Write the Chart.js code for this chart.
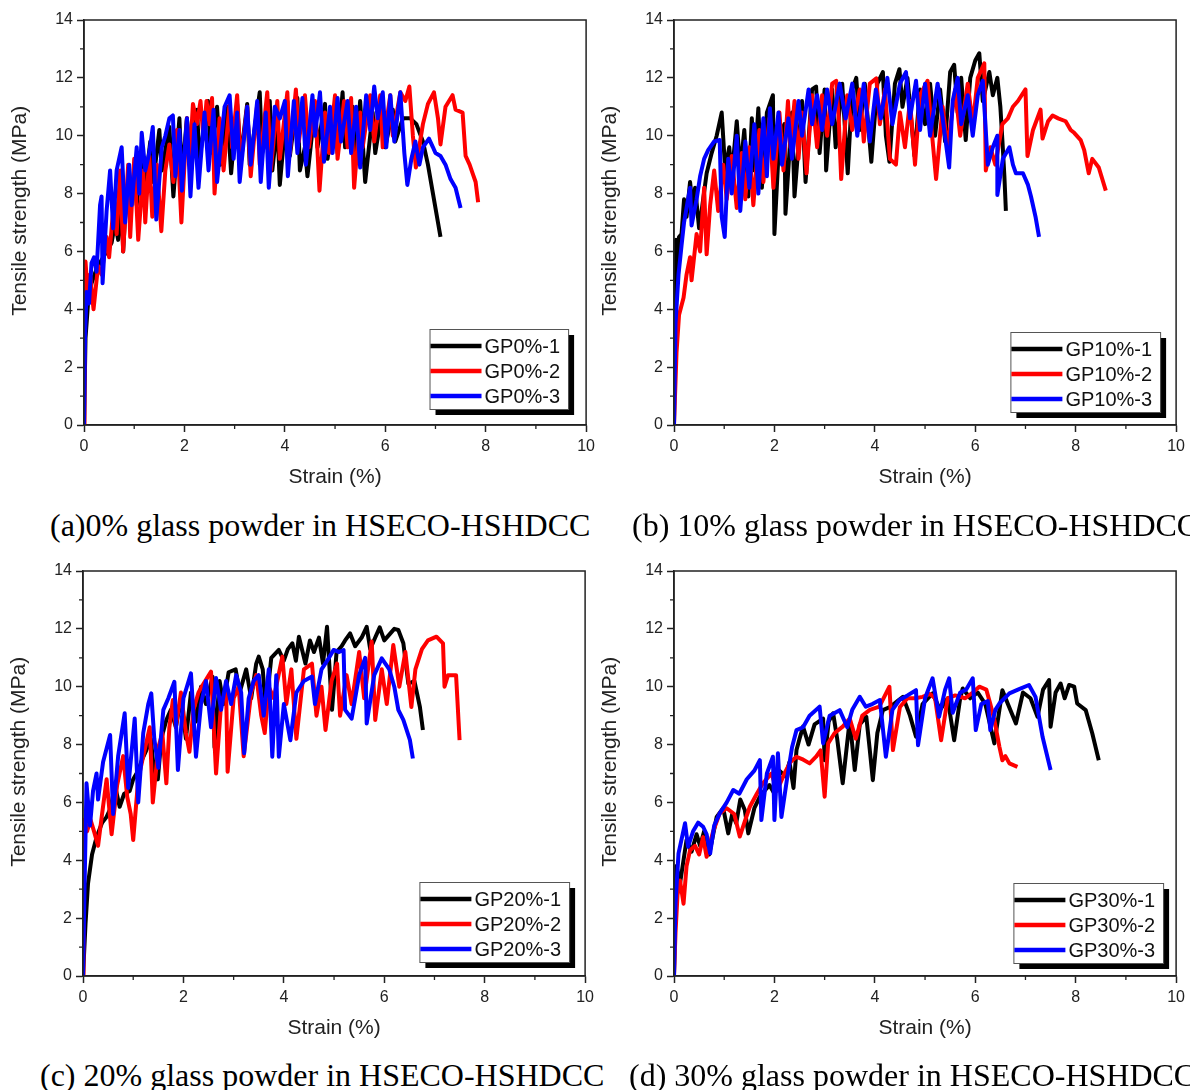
<!DOCTYPE html>
<html>
<head>
<meta charset="utf-8">
<script src="https://cdn.jsdelivr.net/npm/chart.js@4.4.1/dist/chart.umd.min.js"></script>
<style>
html, body { margin: 0; padding: 0; background: #fff; width: 1190px; height: 1090px; overflow: hidden; position: relative; }
canvas { position: absolute; }
.caption { position: absolute; font-family: "Liberation Serif", "Times New Roman", serif; font-size: 32px; line-height: 32px; white-space: nowrap; color: #000; }
</style>
</head>
<body>
<canvas id="chart-a" width="600" height="500" style="left:0px;top:0px"></canvas>
<canvas id="chart-b" width="600" height="500" style="left:590px;top:0px"></canvas>
<canvas id="chart-c" width="600" height="500" style="left:-1px;top:551px"></canvas>
<canvas id="chart-d" width="600" height="500" style="left:590px;top:551px"></canvas>
<div class="caption" style="left:50px;top:509px">(a)0% glass powder in HSECO-HSHDCC</div>
<div class="caption" style="left:632px;top:509px">(b) 10% glass powder in HSECO-HSHDCC</div>
<div class="caption" style="left:40px;top:1059px">(c) 20% glass powder in HSECO-HSHDCC</div>
<div class="caption" style="left:629px;top:1059px">(d) 30% glass powder in HSECO-HSHDCC</div>
<script>
// ============================================
// 유리분말 함량별 인장 응력-변형률 곡선 (4 panels)
// ============================================

// 축 범위 / 눈금
const strainRange = [0, 10];
const stressRange = [0, 14];
const majorStep = 2;
const minorStrain = [1, 3, 5, 7, 9];
const minorStress = [1, 3, 5, 7, 9, 11, 13];

const seriesColors = ['#000000', '#ff0000', '#0000ff'];

// (a) GP0% — [strain %, stress MPa]
const labelsGP0 = ['GP0%-1', 'GP0%-2', 'GP0%-3'];
const gp0_1 = [[0,0],[0.03,3.0],[0.08,4.2],[0.15,4.9],[0.25,5.4],[0.35,5.7],[0.45,6.0],[0.55,6.3],[0.62,7.0],[0.68,6.4],[0.75,7.6],[0.78,6.0],[0.85,8.2],[0.92,7.2],[1.0,8.8],[1.05,7.6],[1.15,9.4],[1.2,8.0],[1.32,9.8],[1.38,8.4],[1.5,10.2],[1.55,8.8],[1.7,10.3],[1.78,7.9],[1.9,10.6],[1.95,8.6],[2.05,10.6],[2.12,9.0],[2.25,10.9],[2.3,9.2],[2.47,11.2],[2.52,9.4],[2.65,11.0],[2.72,9.0],[2.85,11.0],[2.93,8.7],[3.05,11.1],[3.12,9.2],[3.25,11.1],[3.3,9.0],[3.5,11.5],[3.55,9.4],[3.7,11.2],[3.75,8.8],[3.85,10.4],[3.9,8.3],[4.05,11.2],[4.1,9.3],[4.25,11.3],[4.3,8.8],[4.4,9.6],[4.45,8.6],[4.6,11.0],[4.65,9.6],[4.8,11.1],[4.85,9.2],[5.0,11.1],[5.05,9.4],[5.15,11.5],[5.2,9.6],[5.35,11.0],[5.4,9.0],[5.5,11.2],[5.6,8.4],[5.75,10.8],[5.8,9.4],[5.95,11.0],[6.0,9.6],[6.15,10.9],[6.2,9.8],[6.35,10.6],[6.5,10.6],[6.62,10.4],[6.75,9.8],[6.85,9.0],[6.95,8.0],[7.05,7.0],[7.1,6.5]];
const gp0_2 = [[0,0],[0.01,4.5],[0.03,5.65],[0.07,4.6],[0.12,5.2],[0.19,4.0],[0.28,5.5],[0.35,5.2],[0.45,6.5],[0.5,5.8],[0.6,7.8],[0.65,6.6],[0.72,8.8],[0.78,6.0],[0.88,9.0],[0.92,6.5],[1.0,9.2],[1.08,6.4],[1.18,8.8],[1.22,7.0],[1.3,9.3],[1.36,7.2],[1.45,9.0],[1.54,6.7],[1.62,8.8],[1.7,9.7],[1.78,8.4],[1.85,10.2],[1.94,7.0],[2.05,10.6],[2.1,9.0],[2.17,11.1],[2.25,10.4],[2.32,11.2],[2.38,9.9],[2.44,11.2],[2.5,10.4],[2.55,11.3],[2.6,8.0],[2.7,10.6],[2.78,8.8],[2.9,11.1],[2.95,9.6],[3.05,11.4],[3.12,9.0],[3.25,11.0],[3.32,8.6],[3.45,11.1],[3.5,9.0],[3.65,11.5],[3.72,8.8],[3.85,11.2],[3.9,9.2],[4.05,11.5],[4.1,9.4],[4.22,11.6],[4.28,9.8],[4.4,11.4],[4.48,9.6],[4.6,11.2],[4.69,8.1],[4.8,10.8],[4.88,9.4],[5.0,11.4],[5.05,9.2],[5.18,11.2],[5.25,9.6],[5.32,11.3],[5.38,8.2],[5.5,10.8],[5.55,9.6],[5.7,11.4],[5.78,9.8],[5.9,11.4],[5.95,9.6],[6.1,11.4],[6.15,10.0],[6.3,11.5],[6.4,11.2],[6.48,11.7],[6.55,10.0],[6.61,8.9],[6.75,10.4],[6.85,11.1],[6.97,11.5],[7.05,10.6],[7.1,9.7],[7.2,11.0],[7.34,11.4],[7.4,10.9],[7.54,10.8],[7.6,9.3],[7.68,9.0],[7.74,8.7],[7.8,8.4],[7.85,7.7]];
const gp0_3 = [[0,0],[0.02,3.0],[0.05,4.6],[0.1,4.2],[0.15,5.6],[0.2,5.8],[0.25,5.3],[0.32,7.6],[0.35,7.9],[0.37,4.9],[0.45,7.4],[0.52,8.8],[0.58,6.8],[0.65,8.8],[0.75,9.6],[0.82,7.0],[0.9,9.0],[0.95,7.6],[1.05,9.6],[1.1,8.0],[1.15,10.1],[1.22,8.8],[1.3,9.4],[1.37,10.3],[1.44,7.1],[1.55,9.6],[1.62,10.0],[1.7,10.6],[1.77,10.7],[1.82,8.6],[1.9,10.2],[1.95,8.1],[2.05,10.6],[2.12,7.9],[2.2,10.4],[2.28,8.2],[2.4,10.8],[2.48,8.8],[2.58,10.9],[2.65,8.4],[2.8,11.0],[2.9,11.4],[2.98,9.2],[3.05,10.8],[3.1,8.4],[3.25,11.0],[3.32,9.0],[3.45,11.2],[3.52,8.4],[3.62,10.8],[3.68,8.2],[3.8,11.0],[3.9,10.6],[4.0,11.2],[4.06,8.6],[4.18,11.2],[4.25,9.4],[4.35,11.3],[4.42,9.0],[4.55,11.4],[4.6,10.0],[4.7,11.5],[4.78,9.1],[4.9,11.0],[4.95,9.4],[5.05,11.3],[5.12,9.8],[5.25,11.2],[5.32,9.4],[5.42,11.0],[5.5,8.9],[5.62,11.4],[5.7,10.2],[5.78,11.7],[5.85,10.6],[5.95,11.5],[6.02,9.6],[6.1,11.4],[6.18,9.8],[6.3,11.5],[6.38,9.4],[6.44,8.3],[6.52,9.2],[6.6,9.8],[6.68,9.0],[6.75,9.6],[6.87,9.9],[6.95,9.6],[7.0,9.4],[7.1,9.3],[7.2,9.0],[7.3,8.5],[7.4,8.2],[7.5,7.5]];

// (b) GP10%
const labelsGP10 = ['GP10%-1', 'GP10%-2', 'GP10%-3'];
const gp10_1 = [[0,0],[0.02,5.0],[0.04,6.4],[0.07,4.9],[0.1,6.5],[0.15,6.6],[0.2,7.8],[0.25,7.2],[0.32,8.4],[0.38,7.4],[0.42,8.2],[0.5,6.8],[0.55,7.4],[0.65,8.7],[0.75,9.4],[0.85,10.0],[0.95,10.8],[1.02,8.8],[1.1,9.6],[1.15,8.6],[1.25,10.5],[1.32,8.8],[1.4,10.2],[1.48,7.9],[1.55,10.6],[1.6,8.8],[1.68,10.95],[1.75,8.2],[1.85,10.8],[1.97,11.4],[2.0,6.6],[2.1,10.0],[2.2,10.4],[2.22,7.3],[2.35,10.8],[2.4,7.9],[2.55,11.2],[2.62,8.4],[2.75,11.6],[2.83,11.7],[2.9,9.4],[3.0,11.6],[3.03,8.8],[3.15,11.6],[3.22,9.6],[3.35,11.8],[3.46,8.7],[3.55,11.6],[3.63,12.0],[3.7,10.2],[3.8,11.8],[3.93,9.1],[4.05,11.8],[4.16,12.2],[4.22,10.0],[4.29,9.1],[4.4,11.8],[4.49,12.3],[4.55,11.0],[4.65,12.0],[4.79,9.3],[4.9,11.6],[5.0,10.4],[5.1,11.8],[5.2,10.0],[5.3,11.6],[5.4,9.8],[5.5,12.2],[5.58,12.45],[5.65,10.8],[5.72,12.0],[5.81,9.85],[5.9,12.0],[6.0,12.6],[6.08,12.85],[6.15,11.2],[6.28,12.2],[6.35,11.4],[6.44,12.0],[6.5,11.0],[6.54,9.85],[6.58,8.6],[6.61,7.4]];
const gp10_2 = [[0,0],[0.05,2.5],[0.1,3.8],[0.19,4.4],[0.25,5.2],[0.32,5.8],[0.35,5.0],[0.45,6.6],[0.52,6.0],[0.6,8.2],[0.65,5.9],[0.72,7.6],[0.8,8.8],[0.88,7.4],[0.98,9.0],[1.05,7.8],[1.15,9.3],[1.25,7.5],[1.35,9.4],[1.42,7.8],[1.5,9.6],[1.58,7.6],[1.7,10.2],[1.78,8.4],[1.9,10.6],[1.98,8.2],[2.1,10.8],[2.18,8.8],[2.27,11.2],[2.32,9.6],[2.4,11.2],[2.48,9.2],[2.55,10.8],[2.64,8.7],[2.75,11.4],[2.85,9.6],[2.95,11.4],[3.05,10.0],[3.15,11.8],[3.23,11.9],[3.28,10.6],[3.33,8.5],[3.45,11.4],[3.55,10.2],[3.7,11.6],[3.78,9.8],[3.9,11.8],[4.03,11.98],[4.1,10.4],[4.2,11.6],[4.3,9.2],[4.42,9.0],[4.5,10.8],[4.6,9.6],[4.7,11.2],[4.8,9.0],[4.9,11.4],[5.05,11.9],[5.12,10.4],[5.22,8.5],[5.35,11.0],[5.45,9.6],[5.6,11.6],[5.7,10.0],[5.85,11.8],[5.95,10.4],[6.05,12.0],[6.18,12.5],[6.21,8.8],[6.3,9.6],[6.4,9.0],[6.54,10.4],[6.65,10.6],[6.75,11.0],[6.85,11.2],[7.0,11.6],[7.04,9.3],[7.15,10.2],[7.3,10.9],[7.34,9.9],[7.45,10.5],[7.54,10.7],[7.65,10.6],[7.8,10.5],[7.9,10.2],[7.97,10.1],[8.1,9.85],[8.17,9.5],[8.26,8.7],[8.33,9.2],[8.46,8.9],[8.6,8.1]];
const gp10_3 = [[0,0],[0.03,3.5],[0.09,5.2],[0.15,6.2],[0.2,7.0],[0.26,7.6],[0.32,8.2],[0.35,6.9],[0.45,7.8],[0.52,8.6],[0.6,9.2],[0.68,9.5],[0.8,9.8],[0.91,9.85],[0.95,7.2],[1.01,6.5],[1.08,9.2],[1.15,8.0],[1.25,10.0],[1.32,7.4],[1.42,9.8],[1.5,8.2],[1.6,10.4],[1.68,8.0],[1.78,10.6],[1.85,8.6],[1.91,10.95],[1.98,9.2],[2.08,10.8],[2.15,9.0],[2.28,10.6],[2.35,9.2],[2.48,11.2],[2.55,10.0],[2.68,11.6],[2.75,10.4],[2.85,11.4],[2.95,10.2],[3.05,11.6],[3.15,10.4],[3.3,11.8],[3.42,10.6],[3.55,11.8],[3.65,10.0],[3.78,11.8],[3.9,9.8],[4.02,11.6],[4.12,10.6],[4.25,12.0],[4.35,10.4],[4.5,11.8],[4.62,12.2],[4.7,10.6],[4.82,11.9],[4.9,10.2],[5.0,11.8],[5.1,10.0],[5.25,11.8],[5.35,10.6],[5.48,8.9],[5.55,11.2],[5.65,12.0],[5.72,10.4],[5.85,11.4],[5.95,10.0],[6.05,11.4],[6.15,11.9],[6.25,9.0],[6.35,9.6],[6.44,10.0],[6.44,7.95],[6.55,9.2],[6.68,9.6],[6.75,9.0],[6.81,8.7],[6.95,8.7],[7.05,8.3],[7.11,7.9],[7.2,7.2],[7.27,6.5]];

// (c) GP20%
const labelsGP20 = ['GP20%-1', 'GP20%-2', 'GP20%-3'];
const gp20_1 = [[0,0],[0.05,1.8],[0.1,3.2],[0.18,4.2],[0.27,4.8],[0.38,5.3],[0.47,5.5],[0.55,5.8],[0.6,6.25],[0.66,6.4],[0.73,5.85],[0.82,6.3],[0.93,6.4],[1.0,6.8],[1.1,7.1],[1.18,7.5],[1.26,7.8],[1.35,8.2],[1.42,7.0],[1.49,6.8],[1.56,8.2],[1.66,8.85],[1.75,9.2],[1.85,8.6],[1.95,9.6],[2.05,8.2],[2.15,9.8],[2.25,8.8],[2.35,10.0],[2.45,9.4],[2.58,10.35],[2.62,7.9],[2.72,10.2],[2.8,9.4],[2.9,10.5],[3.04,10.6],[3.12,9.8],[3.25,10.6],[3.35,9.6],[3.45,10.8],[3.5,11.04],[3.58,10.6],[3.64,9.2],[3.75,11.0],[3.9,11.27],[4.0,10.9],[4.08,11.3],[4.17,11.5],[4.24,10.9],[4.3,11.73],[4.43,10.8],[4.52,11.6],[4.6,11.2],[4.7,11.7],[4.78,10.8],[4.86,12.07],[4.96,9.2],[5.05,11.2],[5.15,11.4],[5.22,11.6],[5.32,11.84],[5.42,11.4],[5.55,11.7],[5.65,12.07],[5.72,11.3],[5.82,11.7],[5.91,12.05],[6.0,11.6],[6.1,11.8],[6.2,12.0],[6.28,11.96],[6.38,11.5],[6.48,10.1],[6.6,10.2],[6.71,9.3],[6.77,8.5]];
const gp20_2 = [[0,0],[0.01,4.5],[0.02,5.4],[0.08,5.0],[0.15,5.4],[0.22,5.0],[0.3,4.5],[0.38,5.6],[0.47,6.8],[0.57,4.9],[0.68,6.6],[0.8,7.6],[0.88,6.2],[0.95,5.6],[1.0,4.7],[1.1,6.8],[1.2,7.6],[1.33,8.6],[1.39,6.0],[1.5,7.9],[1.58,8.4],[1.66,6.66],[1.72,8.6],[1.79,9.54],[1.85,8.6],[1.95,9.8],[2.05,8.4],[2.12,7.75],[2.2,9.2],[2.3,9.8],[2.4,10.1],[2.55,10.52],[2.65,7.0],[2.75,9.4],[2.85,9.9],[2.88,7.06],[3.0,9.6],[3.1,10.0],[3.2,7.6],[3.35,9.8],[3.45,10.4],[3.55,9.0],[3.62,8.4],[3.7,10.0],[3.8,9.6],[3.97,11.04],[4.05,9.4],[4.15,10.6],[4.25,8.2],[4.4,10.6],[4.56,10.8],[4.65,9.0],[4.75,10.0],[4.83,8.5],[4.95,10.2],[5.06,10.8],[5.12,9.0],[5.25,10.4],[5.35,9.4],[5.5,11.2],[5.6,9.6],[5.75,11.56],[5.82,8.85],[5.95,10.6],[6.05,9.4],[6.18,11.44],[6.3,10.0],[6.42,11.2],[6.54,9.3],[6.62,10.6],[6.75,11.3],[6.87,11.6],[7.04,11.73],[7.17,11.5],[7.2,10.0],[7.27,10.4],[7.43,10.4],[7.5,8.15]];
const gp20_3 = [[0,0],[0.03,3.0],[0.07,6.66],[0.14,5.2],[0.2,6.4],[0.27,7.0],[0.3,6.1],[0.4,7.4],[0.54,8.33],[0.6,5.6],[0.7,7.6],[0.83,9.08],[0.9,6.5],[1.03,8.9],[1.1,6.0],[1.2,8.4],[1.3,9.4],[1.36,9.77],[1.42,8.2],[1.5,7.2],[1.6,9.2],[1.7,9.6],[1.82,10.17],[1.89,7.12],[2.0,9.6],[2.15,10.46],[2.25,7.58],[2.35,9.4],[2.45,10.2],[2.55,8.6],[2.65,10.3],[2.75,9.2],[2.85,10.2],[2.95,9.4],[3.05,10.4],[3.15,9.8],[3.21,7.7],[3.3,9.6],[3.4,10.2],[3.5,10.4],[3.6,9.0],[3.7,10.6],[3.77,7.58],[3.85,10.4],[3.9,7.58],[4.0,9.4],[4.13,8.15],[4.25,9.8],[4.4,10.2],[4.56,10.35],[4.62,9.4],[4.75,10.6],[4.9,11.0],[4.99,11.27],[5.1,11.2],[5.19,11.27],[5.22,9.2],[5.35,8.9],[5.5,10.4],[5.62,11.0],[5.65,8.73],[5.8,10.4],[5.95,10.98],[6.1,10.6],[6.2,10.0],[6.28,9.2],[6.38,8.85],[6.51,8.16],[6.57,7.52]];

// (d) GP30%
const labelsGP30 = ['GP30%-1', 'GP30%-2', 'GP30%-3'];
const gp30_1 = [[0,0],[0.02,2.2],[0.05,3.8],[0.12,3.2],[0.25,4.7],[0.35,4.3],[0.45,4.9],[0.52,4.5],[0.6,5.0],[0.7,4.2],[0.85,5.5],[0.98,5.8],[1.08,4.93],[1.16,5.6],[1.24,5.28],[1.32,6.1],[1.41,5.74],[1.48,4.93],[1.6,5.8],[1.71,6.2],[1.8,6.4],[1.9,6.6],[2.0,6.3],[2.1,7.1],[2.22,6.9],[2.3,7.4],[2.38,6.5],[2.44,7.81],[2.5,8.2],[2.57,8.62],[2.68,8.0],[2.8,8.7],[2.97,8.9],[3.0,7.46],[3.08,8.8],[3.17,9.08],[3.25,8.2],[3.36,6.66],[3.5,8.85],[3.6,7.12],[3.7,8.7],[3.83,8.96],[3.9,7.8],[3.96,6.77],[4.05,8.4],[4.16,9.19],[4.3,9.3],[4.45,9.5],[4.56,9.65],[4.7,9.0],[4.82,8.27],[4.95,9.4],[5.15,9.77],[5.3,9.2],[5.45,9.6],[5.58,8.15],[5.7,9.6],[5.75,9.94],[5.9,9.6],[6.05,9.8],[6.2,9.4],[6.38,8.04],[6.54,9.88],[6.65,9.4],[6.81,8.73],[6.95,9.8],[7.1,9.6],[7.24,8.96],[7.35,9.9],[7.47,10.23],[7.5,8.62],[7.6,9.8],[7.7,10.11],[7.78,9.6],[7.87,10.06],[7.97,10.0],[8.03,9.42],[8.2,9.19],[8.33,8.39],[8.46,7.46]];
const gp30_2 = [[0,0],[0.03,1.5],[0.07,2.8],[0.12,3.3],[0.19,2.5],[0.25,3.8],[0.32,4.35],[0.42,4.5],[0.5,4.2],[0.58,4.8],[0.65,4.12],[0.78,5.0],[0.91,5.62],[1.05,5.8],[1.2,5.6],[1.31,4.82],[1.42,5.4],[1.51,5.85],[1.65,6.3],[1.77,6.66],[1.94,7.0],[2.05,6.4],[2.2,7.0],[2.32,7.4],[2.44,7.58],[2.55,7.5],[2.7,7.35],[2.83,7.58],[2.92,7.8],[3.0,6.2],[3.07,8.04],[3.2,8.4],[3.36,8.62],[3.5,8.9],[3.62,8.2],[3.75,9.0],[3.9,9.2],[4.09,9.31],[4.29,10.0],[4.36,7.81],[4.5,9.3],[4.65,9.6],[4.8,9.6],[4.95,9.65],[5.1,9.75],[5.2,9.6],[5.32,8.15],[5.45,9.6],[5.6,9.7],[5.8,9.6],[5.95,9.8],[6.08,10.0],[6.22,9.9],[6.3,9.4],[6.38,8.85],[6.48,7.93],[6.54,7.46],[6.6,7.6],[6.68,7.35],[6.84,7.23]];
const gp30_3 = [[0,0],[0.03,2.5],[0.09,4.24],[0.16,4.8],[0.22,5.28],[0.28,4.47],[0.38,5.0],[0.48,5.3],[0.58,5.16],[0.65,4.9],[0.72,4.24],[0.8,5.2],[0.91,5.62],[1.05,6.0],[1.18,6.43],[1.3,6.3],[1.45,6.8],[1.6,7.1],[1.71,7.46],[1.74,5.39],[1.85,7.0],[1.97,7.58],[2.0,5.39],[2.07,7.7],[2.14,5.5],[2.25,6.8],[2.35,7.9],[2.44,8.5],[2.57,8.6],[2.7,9.0],[2.9,9.31],[2.97,8.04],[3.1,9.0],[3.3,9.19],[3.45,8.6],[3.55,9.2],[3.7,9.65],[3.82,9.31],[3.95,9.4],[4.1,9.54],[4.22,7.58],[4.35,9.2],[4.49,9.54],[4.65,9.7],[4.82,9.88],[4.86,7.98],[5.0,9.6],[5.15,10.29],[5.28,8.96],[5.4,9.9],[5.48,10.29],[5.55,9.1],[5.7,9.8],[5.82,9.9],[5.95,10.29],[6.01,8.5],[6.12,9.4],[6.25,9.5],[6.3,8.5],[6.4,9.2],[6.48,9.42],[6.68,9.77],[6.85,9.9],[7.07,10.06],[7.2,9.65],[7.34,8.27],[7.5,7.12]];

const FONT = '"Liberation Sans", Arial, sans-serif';
Chart.defaults.font.family = FONT;
Chart.defaults.color = '#222';

// 테두리 박스 + 보조 눈금
const frameAndMinorTicks = {
    id: 'frameAndMinorTicks',
    afterDraw(chart) {
        const { ctx, chartArea: a, scales: { x, y } } = chart;
        ctx.save();
        ctx.strokeStyle = '#222';
        ctx.lineWidth = 1.5;
        ctx.strokeRect(a.left, a.top, a.right - a.left, a.bottom - a.top);
        ctx.lineWidth = 1.3;
        ctx.beginPath();
        minorStrain.forEach(v => {
            const px = x.getPixelForValue(v);
            ctx.moveTo(px, a.bottom);
            ctx.lineTo(px, a.bottom + 4);
        });
        minorStress.forEach(v => {
            const py = y.getPixelForValue(v);
            ctx.moveTo(a.left, py);
            ctx.lineTo(a.left - 4, py);
        });
        ctx.stroke();
        ctx.restore();
    }
};

// Origin 스타일 범례 (그림자 박스)
const boxLegend = {
    id: 'boxLegend',
    afterDraw(chart, args, opts) {
        const { ctx, chartArea: a } = chart;
        const items = chart.data.datasets;
        ctx.save();
        ctx.font = '20px ' + FONT;
        const textW = Math.max(...items.map(d => ctx.measureText(d.label).width));
        const w = 57 + textW + 6;
        const h = 80;
        const x0 = a.right - opts.right - w;
        const y0 = a.bottom - opts.bottom - h;
        ctx.fillStyle = '#000';
        ctx.fillRect(x0 + 6, y0 + 6, w, h);
        ctx.fillStyle = '#fff';
        ctx.fillRect(x0, y0, w, h);
        ctx.strokeStyle = '#555';
        ctx.lineWidth = 1;
        ctx.strokeRect(x0 + 0.5, y0 + 0.5, w, h);
        items.forEach((d, i) => {
            const cy = y0 + 17 + i * 25;
            ctx.strokeStyle = d.borderColor;
            ctx.lineWidth = 4.5;
            ctx.beginPath();
            ctx.moveTo(x0 + 1, cy);
            ctx.lineTo(x0 + 52, cy);
            ctx.stroke();
            ctx.fillStyle = '#111';
            ctx.textBaseline = 'middle';
            ctx.fillText(d.label, x0 + 55, cy + 1);
        });
        ctx.restore();
    }
};

function makeChart(canvasId, series, labels, legendInset) {
    const canvas = document.getElementById(canvasId);
    return new Chart(canvas, {
        type: 'line',
        data: {
            datasets: series.map((s, i) => ({
                label: labels[i],
                data: s,
                borderColor: seriesColors[i],
                borderWidth: 4,
                borderJoinStyle: 'round',
                pointRadius: 0,
                tension: 0,
                fill: false,
                order: series.length - 1 - i
            }))
        },
        options: {
            responsive: false,
            animation: false,
            events: [],
            layout: { padding: { top: 20, right: 12, left: 0, bottom: 0 } },
            plugins: {
                legend: { display: false },
                tooltip: { enabled: false },
                boxLegend: legendInset
            },
            scales: {
                x: {
                    type: 'linear',
                    min: strainRange[0],
                    max: strainRange[1],
                    afterFit: (scale) => { scale.height = 75; },
                    ticks: { stepSize: majorStep, maxRotation: 0, padding: 5, color: '#222', font: { size: 16 } },
                    grid: { drawOnChartArea: false, tickLength: 7, tickColor: '#222', tickWidth: 1.5 },
                    border: { color: '#222', width: 1.5 },
                    title: { display: true, text: 'Strain (%)', color: '#222', font: { size: 21 }, padding: { top: 0, bottom: 10 } }
                },
                y: {
                    type: 'linear',
                    min: stressRange[0],
                    max: stressRange[1],
                    afterFit: (scale) => { scale.width = 84; },
                    ticks: { stepSize: majorStep, padding: 4, color: '#222', font: { size: 16 } },
                    grid: { drawOnChartArea: false, tickLength: 7, tickColor: '#222', tickWidth: 1.5 },
                    border: { color: '#222', width: 1.5 },
                    title: { display: true, text: '    Tensile strength (MPa)', color: '#222', font: { size: 21 }, padding: { top: 8, bottom: 0 } }
                }
            }
        },
        plugins: [frameAndMinorTicks, boxLegend]
    });
}

makeChart('chart-a', [gp0_1, gp0_2, gp0_3], labelsGP0, { right: 18, bottom: 16 });
makeChart('chart-b', [gp10_1, gp10_2, gp10_3], labelsGP10, { right: 16, bottom: 13 });
makeChart('chart-c', [gp20_1, gp20_2, gp20_3], labelsGP20, { right: 16, bottom: 14 });
makeChart('chart-d', [gp30_1, gp30_2, gp30_3], labelsGP30, { right: 13, bottom: 13 });
</script>
</body>
</html>
